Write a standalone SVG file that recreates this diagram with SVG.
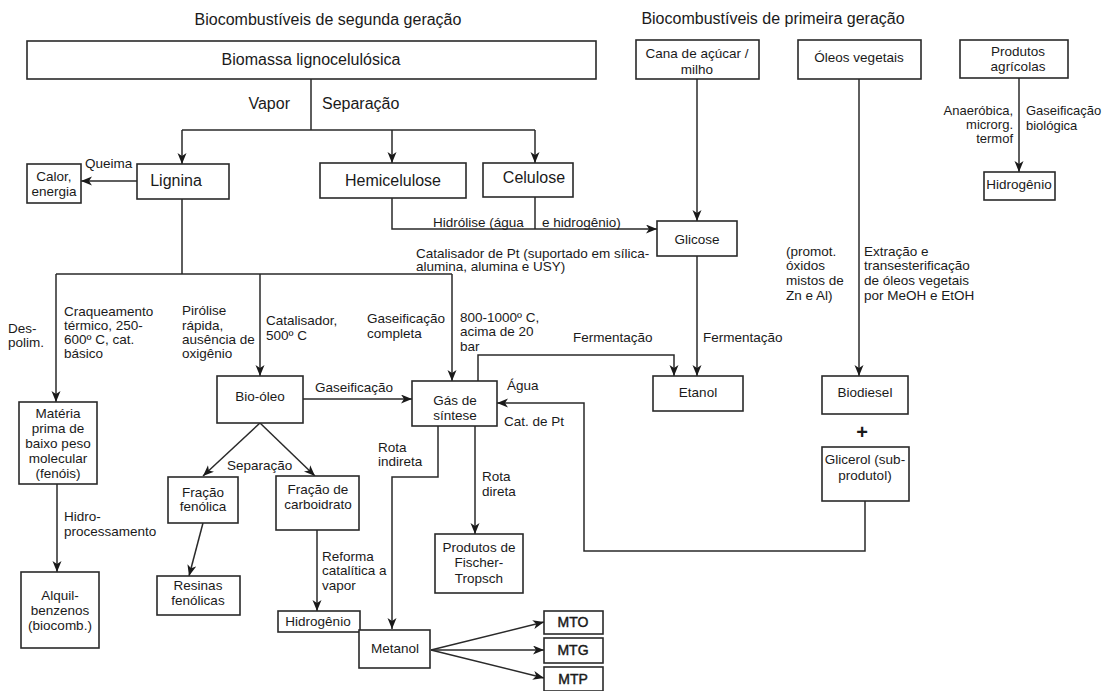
<svg xmlns="http://www.w3.org/2000/svg" width="1104" height="691" viewBox="0 0 1104 691">
<style>
text{font-family:"Liberation Sans",Arial,sans-serif;font-size:13.5px;fill:#1a1a1a}
.t15{font-size:16px}
.t16{font-size:16px}
.s13{font-size:13px}
.c{text-anchor:middle}
.r{text-anchor:end}
.b{font-size:14px;stroke:#1a1a1a;stroke-width:0.45}
rect{fill:#fff;stroke:#2a2a2a;stroke-width:1.6}
.cn path{fill:none;stroke:#2a2a2a;stroke-width:1.5}
.ar{marker-end:url(#ah)}
</style>
<defs>
<marker id="ah" markerUnits="userSpaceOnUse" markerWidth="12" markerHeight="10" refX="11" refY="4.5" orient="auto">
<path d="M0,0 L11,4.5 L0,9 L3,4.5 z" fill="#1a1a1a"/>
</marker>
</defs>
<rect x="0" y="0" width="1104" height="691" style="fill:#fff;stroke:none"/>

<g id="titles">
<text class="t15 c" x="328" y="25">Biocombustíveis de segunda geração</text>
<text class="t15 c" x="773" y="24">Biocombustíveis de primeira geração</text>
</g>

<g class="cn" id="connectors">
<path d="M311,79 V130 M182,130 H535"/>
<path class="ar" d="M182,130 V164"/>
<path class="ar" d="M392,130 V163"/>
<path class="ar" d="M535,130 V163"/>
<path class="ar" d="M137,181 H81"/>
<path class="ar" d="M392,198 V229 H657"/>
<path d="M535,197 V229"/>
<path class="ar" d="M697,79 V221"/>
<path class="ar" d="M697,256 V376"/>
<path class="ar" d="M859,79 V376"/>
<path class="ar" d="M1019,78 V172"/>
<path d="M182,199 V274 M56,274 H452"/>
<path class="ar" d="M56,274 V402"/>
<path class="ar" d="M260,274 V376"/>
<path class="ar" d="M452,274 V381"/>
<path class="ar" d="M57,484 V572"/>
<path class="ar" d="M303,399 H412"/>
<path class="ar" d="M478,381 V355 H674 V376"/>
<path class="ar" d="M865,501 V551 H584 V403 H497"/>
<path class="ar" d="M438,426 V477 H392 V629"/>
<path class="ar" d="M475,426 V534"/>
<path class="ar" d="M260,423 L203,476"/>
<path class="ar" d="M260,423 L315,476"/>
<path class="ar" d="M203,523 L189,576"/>
<path class="ar" d="M317,530 V611"/>
<path class="ar" d="M431,650 L544,622"/>
<path class="ar" d="M431,650 L544,650"/>
<path class="ar" d="M431,650 L544,678"/>
</g>

<g id="edge-labels">
<text class="t15 r" x="290" y="109">Vapor</text>
<text class="t15" x="322" y="109">Separação</text>
<text x="85" y="168">Queima</text>
<text x="433" y="227">Hidrólise (água</text>
<text x="542" y="227">e hidrogênio)</text>
<text x="416" y="258">Catalisador de Pt (suportado em sílica-</text>
<text x="416" y="271">alumina, alumina e USY)</text>
<text class="r s13" x="1013" y="115">Anaeróbica,</text>
<text class="r s13" x="1013" y="129">microrg.</text>
<text class="r s13" x="1013" y="143">termof</text>
<text class="s13" x="1026" y="115">Gaseificação</text>
<text class="s13" x="1026" y="130">biológica</text>
<text x="786" y="256">(promot.</text>
<text x="786" y="270">óxidos</text>
<text x="786" y="285">mistos de</text>
<text x="786" y="300">Zn e Al)</text>
<text x="864" y="256">Extração e</text>
<text x="864" y="270">transesterificação</text>
<text x="864" y="285">de óleos vegetais</text>
<text x="864" y="300">por MeOH e EtOH</text>
<text x="703" y="342">Fermentação</text>
<text x="573" y="342">Fermentação</text>
<text x="8" y="333">Des-</text>
<text x="8" y="347">polim.</text>
<text x="64" y="316">Craqueamento</text>
<text x="64" y="330">térmico, 250-</text>
<text x="64" y="344">600º C, cat.</text>
<text x="64" y="358">básico</text>
<text x="182" y="315">Pirólise</text>
<text x="182" y="330">rápida,</text>
<text x="182" y="344">ausência de</text>
<text x="182" y="358">oxigênio</text>
<text x="266" y="325">Catalisador,</text>
<text x="266" y="340">500º C</text>
<text x="367" y="323">Gaseificação</text>
<text x="367" y="338">completa</text>
<text x="460" y="322">800-1000º C,</text>
<text x="460" y="336">acima de 20</text>
<text x="460" y="351">bar</text>
<text x="315" y="392">Gaseificação</text>
<text x="507" y="390">Água</text>
<text x="504" y="426">Cat. de Pt</text>
<text x="378" y="452">Rota</text>
<text x="378" y="466">indireta</text>
<text x="482" y="481">Rota</text>
<text x="482" y="496">direta</text>
<text x="227" y="470">Separação</text>
<text x="64" y="521">Hidro-</text>
<text x="64" y="536">processamento</text>
<text x="322" y="561">Reforma</text>
<text x="322" y="575">catalítica a</text>
<text x="322" y="590">vapor</text>
<text class="c" x="862" y="439" style="font-size:20px;font-weight:bold">+</text>
</g>

<g id="biomassa"><rect x="27" y="41" width="569" height="38"/><text class="t15 c" x="311" y="65">Biomassa lignocelulósica</text></g>
<g id="lignina"><rect x="137" y="164" width="92" height="35"/><text class="t16 c" x="176" y="186">Lignina</text></g>
<g id="calor"><rect x="27" y="164" width="54" height="39"/><text class="c" x="54" y="181">Calor,</text><text class="c" x="54" y="196">energia</text></g>
<g id="hemicelulose"><rect x="320" y="163" width="146" height="35"/><text class="t16 c" x="393" y="186">Hemicelulose</text></g>
<g id="celulose"><rect x="483" y="163" width="90" height="34"/><text class="t16 c" x="534" y="183">Celulose</text></g>
<g id="cana"><rect x="636" y="40" width="123" height="39"/><text class="c" x="697" y="58">Cana de açúcar /</text><text class="c" x="697" y="74">milho</text></g>
<g id="oleos"><rect x="798" y="40" width="123" height="39"/><text class="c" x="859" y="62">Óleos vegetais</text></g>
<g id="produtos-agricolas"><rect x="960" y="40" width="108" height="38"/><text class="c" x="1018" y="56">Produtos</text><text class="c" x="1018" y="71">agrícolas</text></g>
<g id="hidrogenio-bio"><rect x="984" y="172" width="71" height="28"/><text class="c" x="1019" y="189">Hidrogênio</text></g>
<g id="glicose"><rect x="657" y="221" width="80" height="35"/><text class="c" x="697" y="244">Glicose</text></g>
<g id="etanol"><rect x="653" y="376" width="90" height="35"/><text class="c" x="698" y="397">Etanol</text></g>
<g id="biodiesel"><rect x="822" y="376" width="86" height="38"/><text class="c" x="865" y="397">Biodiesel</text></g>
<g id="glicerol"><rect x="822" y="447" width="87" height="54"/><text class="c" x="865" y="464">Glicerol (sub-</text><text class="c" x="865" y="480">produtol)</text></g>
<g id="materia"><rect x="19" y="402" width="78" height="82"/><text class="c" x="58" y="418">Matéria</text><text class="c" x="58" y="433">prima de</text><text class="c" x="58" y="448">baixo peso</text><text class="c" x="58" y="463">molecular</text><text class="c" x="58" y="478">(fenóis)</text></g>
<g id="alquil"><rect x="21" y="572" width="78" height="76"/><text class="c" x="60" y="600">Alquil-</text><text class="c" x="60" y="615">benzenos</text><text class="c" x="60" y="630">(biocomb.)</text></g>
<g id="bio-oleo"><rect x="217" y="376" width="86" height="47"/><text class="c" x="260" y="401">Bio-óleo</text></g>
<g id="gas-sintese"><rect x="412" y="381" width="85" height="45"/><text class="c" x="455" y="405">Gás de</text><text class="c" x="455" y="420">síntese</text></g>
<g id="fracao-fenolica"><rect x="168" y="477" width="70" height="46"/><text class="c" x="203" y="497">Fração</text><text class="c" x="203" y="511">fenólica</text></g>
<g id="fracao-carboidrato"><rect x="276" y="476" width="83" height="54"/><text class="c" x="318" y="494">Fração de</text><text class="c" x="318" y="509">carboidrato</text></g>
<g id="resinas"><rect x="157" y="576" width="83" height="39"/><text class="c" x="198" y="590">Resinas</text><text class="c" x="198" y="605">fenólicas</text></g>
<g id="hidrogenio"><rect x="278" y="611" width="82" height="21"/><text class="c" x="318" y="626">Hidrogênio</text></g>
<g id="fischer-tropsch"><rect x="435" y="534" width="88" height="59"/><text class="c" x="479" y="552">Produtos de</text><text class="c" x="479" y="567">Fischer-</text><text class="c" x="479" y="583">Tropsch</text></g>
<g id="metanol"><rect x="359" y="630" width="71" height="38"/><text class="c" x="395" y="653">Metanol</text></g>
<g id="mto"><rect x="544" y="611" width="59" height="23"/><text class="c b" x="573" y="627">MTO</text></g>
<g id="mtg"><rect x="544" y="638" width="59" height="25"/><text class="c b" x="573" y="655">MTG</text></g>
<g id="mtp"><rect x="544" y="667" width="59" height="24"/><text class="c b" x="573" y="684">MTP</text></g>
</svg>
